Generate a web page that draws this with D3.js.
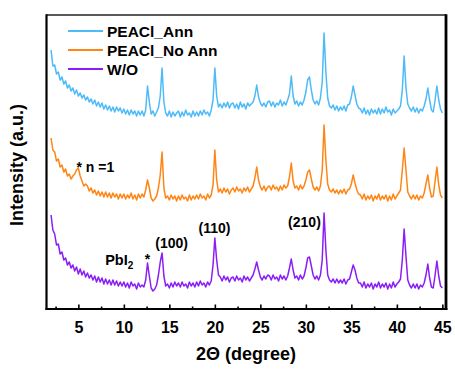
<!DOCTYPE html>
<html><head><meta charset="utf-8">
<script src="https://cdn.jsdelivr.net/npm/d3@7"></script>
<style>body{margin:0;background:#fff}svg{display:block;font-family:"Liberation Sans",Arial,sans-serif;font-weight:bold}</style>
</head><body><svg id="c" width="455" height="370"></svg>
<script>
const twoTheta = [
2.0,2.2,2.4,2.6,2.8,3.0,3.2,3.4,3.6,3.8,
4.0,4.2,4.4,4.6,4.8,5.0,5.2,5.4,5.6,5.8,
6.0,6.2,6.4,6.6,6.8,7.0,7.2,7.4,7.6,7.8,
8.0,8.2,8.4,8.6,8.8,9.0,9.2,9.4,9.6,9.8,
10.0,10.2,10.4,10.6,10.8,11.0,11.2,11.4,11.6,11.8,
12.0,12.2,12.4,12.6,12.8,13.0,13.2,13.4,13.6,13.8,
14.0,14.2,14.4,14.6,14.8,15.0,15.2,15.4,15.6,15.8,
16.0,16.2,16.4,16.6,16.8,17.0,17.2,17.4,17.6,17.8,
18.0,18.2,18.4,18.6,18.8,19.0,19.2,19.4,19.6,19.8,
20.0,20.2,20.4,20.6,20.8,21.0,21.2,21.4,21.6,21.8,
22.0,22.2,22.4,22.6,22.8,23.0,23.2,23.4,23.6,23.8,
24.0,24.2,24.4,24.6,24.8,25.0,25.2,25.4,25.6,25.8,
26.0,26.2,26.4,26.6,26.8,27.0,27.2,27.4,27.6,27.8,
28.0,28.2,28.4,28.6,28.8,29.0,29.2,29.4,29.6,29.8,
30.0,30.2,30.4,30.6,30.8,31.0,31.2,31.4,31.6,31.8,
32.0,32.2,32.4,32.6,32.8,33.0,33.2,33.4,33.6,33.8,
34.0,34.2,34.4,34.6,34.8,35.0,35.2,35.4,35.6,35.8,
36.0,36.2,36.4,36.6,36.8,37.0,37.2,37.4,37.6,37.8,
38.0,38.2,38.4,38.6,38.8,39.0,39.2,39.4,39.6,39.8,
40.0,40.2,40.4,40.6,40.8,41.0,41.2,41.4,41.6,41.8,
42.0,42.2,42.4,42.6,42.8,43.0,43.2,43.4,43.6,43.8,
44.0,44.2,44.4,44.6,44.8,45.0];

const peaclAnn = [
259,243,244,235,237,229,232,225,228,221,
224,218,221,215,219,213,216,211,214,209,
212,207,210,205,209,203,207,202,206,200,
204,199,203,198,202,197,202,198,201,196,
200,195,199,194,199,195,198,193,198,194,
198,193,199,223,207,195,198,193,197,201,
213,241,207,196,193,198,192,197,193,196,
198,192,197,193,199,194,196,192,198,193,
197,193,198,194,199,195,197,193,199,209,
241,213,202,205,201,206,202,207,201,205,
206,201,205,200,207,202,205,200,206,203,
205,207,213,224,212,206,203,206,202,207,
208,203,207,202,206,204,209,203,207,204,
209,215,233,213,205,208,203,207,204,209,
217,229,232,219,209,205,208,204,211,227,
276,237,211,203,201,204,199,203,198,202,
199,203,198,204,205,212,223,214,205,201,
200,196,201,195,199,194,200,196,199,195,
201,195,200,196,202,197,199,194,200,196,
198,200,203,219,253,221,205,201,198,202,
197,201,196,200,198,203,210,221,209,199,
197,209,223,209,200,196];

const peaclNoAnn = [
171,159,157,148,150,142,144,137,140,133,
135,130,133,135,139,141,133,128,123,125,
123,118,121,116,119,114,118,113,117,112,
117,112,116,111,116,112,115,110,115,111,
115,110,114,111,116,110,114,109,115,111,
115,112,119,129,121,111,108,110,113,121,
134,157,121,111,113,109,114,110,113,108,
113,109,114,110,112,108,114,109,113,110,
114,110,115,111,113,109,115,111,114,124,
159,129,117,120,116,121,117,120,115,119,
121,117,122,118,120,116,121,118,122,117,
120,123,131,142,129,122,119,123,118,122,
123,119,124,120,122,118,123,119,124,121,
123,132,146,128,121,123,119,124,120,123,
129,137,139,130,122,119,122,118,123,139,
184,149,125,119,117,120,116,119,115,119,
116,120,115,119,120,125,134,126,119,115,
114,110,115,109,113,110,114,108,113,110,
115,109,113,110,114,108,113,109,115,110,
113,116,119,139,161,139,117,113,110,114,
110,114,109,113,111,116,125,134,121,112,
113,128,142,124,114,111];

const withoutTreat = [
94,79,75,64,65,55,57,49,51,44,
47,41,44,38,42,35,40,34,38,32,
36,31,34,29,33,27,32,27,31,25,
30,25,29,24,29,24,28,23,27,23,
27,22,26,21,27,23,25,20,26,22,
24,22,29,46,33,21,18,20,24,34,
47,56,33,23,25,21,26,22,27,23,
26,22,27,23,25,21,27,23,26,22,
27,23,28,24,26,22,27,24,28,44,
71,49,34,32,28,33,29,32,27,31,
32,28,33,29,31,27,33,29,32,28,
31,34,40,47,39,32,29,33,30,34,
33,29,34,30,32,28,34,30,33,29,
33,41,50,39,31,33,29,34,30,33,
41,51,52,43,34,30,33,29,34,49,
96,59,34,29,27,30,26,30,26,29,
26,30,25,29,30,37,44,39,31,26,
26,22,27,21,25,22,26,20,25,22,
27,21,25,22,26,20,25,21,27,22,
25,27,30,49,80,53,29,24,21,25,
21,25,20,24,22,26,34,45,31,22,
21,34,48,33,23,21];

const seriesNames = ["PEACl_Ann","PEACl_No Ann","W/O"];
const seriesColors = ["#4DBBF8","#FF8514","#8A1EF7"];
const seriesValues = [peaclAnn, peaclNoAnn, withoutTreat];
const xTicks = [5,10,15,20,25,30,35,40,45];
const xMinorTicks = [2.5,7.5,12.5,17.5,22.5,27.5,32.5,37.5,42.5];
const annotations = [
  {text:"* n =1", x:4.8, y:137},
  {text:"(100)", x:13.45, y:61},
  {text:"(110)", x:18.2, y:76},
  {text:"(210)", x:28.05, y:82}
];

const svg = d3.select("#c");
const L=46.5, R=446, T=15, B=309;
const x = d3.scaleLinear().domain([1.5,45.4]).range([L,R]);
const y = d3.scaleLinear().domain([0,294]).range([B,T]);

const line = d3.line().x((d,i)=>x(twoTheta[i])).y(d=>y(d));
seriesValues.forEach((vals,k)=>{
  svg.append("path").attr("d",line(vals)).attr("fill","none")
    .attr("stroke",seriesColors[k]).attr("stroke-width",1.5).attr("stroke-linejoin","round");
});

// frame
svg.append("line").attr("x1",L).attr("x2",R).attr("y1",T).attr("y2",T).attr("stroke","#222").attr("stroke-width",1.5);
svg.append("line").attr("x1",L).attr("x2",L).attr("y1",T-0.75).attr("y2",B+1).attr("stroke","#000").attr("stroke-width",2.2);
svg.append("line").attr("x1",R).attr("x2",R).attr("y1",T-0.75).attr("y2",B+1).attr("stroke","#000").attr("stroke-width",2.8);
svg.append("line").attr("x1",L-1).attr("x2",R+1.4).attr("y1",B).attr("y2",B).attr("stroke","#000").attr("stroke-width",2.2);

// x axis ticks (inward)
const ax = d3.axisBottom(x).tickValues(xTicks).tickSize(-4.5).tickPadding(13).tickFormat(d3.format("d"));
const g = svg.append("g").attr("transform",`translate(0,${B})`).call(ax);
g.select(".domain").remove();
g.selectAll(".tick line").attr("stroke","#000").attr("stroke-width",1.6);
g.selectAll(".tick text").attr("font-size",16).attr("font-weight","bold").attr("fill","#000")
  .attr("font-family","'Liberation Sans',Arial,sans-serif");
const gm = svg.append("g").attr("transform",`translate(0,${B})`).call(d3.axisBottom(x).tickValues(xMinorTicks).tickSize(-2.5).tickFormat(""));
gm.select(".domain").remove();
gm.selectAll(".tick line").attr("stroke","#000").attr("stroke-width",1.6);

// axis titles
svg.append("text").attr("x",246).attr("y",360).attr("text-anchor","middle").attr("font-size",18).text("2Θ (degree)");
svg.append("text").attr("transform","translate(23,165) rotate(-90)").attr("text-anchor","middle").attr("font-size",18).text("Intensity (a.u.)");

// legend
seriesNames.forEach((n,k)=>{
  const yy = 31 + k*19;
  svg.append("line").attr("x1",68).attr("x2",103).attr("y1",yy).attr("y2",yy).attr("stroke",seriesColors[k]).attr("stroke-width",1.8);
  svg.append("text").attr("x",107).attr("y",yy+5.5).attr("font-size",15.5).text(n);
});

// annotations
annotations.forEach(a=>{
  svg.append("text").attr("x",x(a.x)).attr("y",y(a.y)).attr("font-size",14).text(a.text);
});
const pb = svg.append("text").attr("x",x(7.95)).attr("y",y(44)).attr("font-size",14.5);
pb.append("tspan").text("PbI");
pb.append("tspan").attr("font-size",10).attr("dy",4).text("2");
svg.append("text").attr("x",x(12.3)).attr("y",y(45)).attr("font-size",14).text("*");
</script></body></html>
